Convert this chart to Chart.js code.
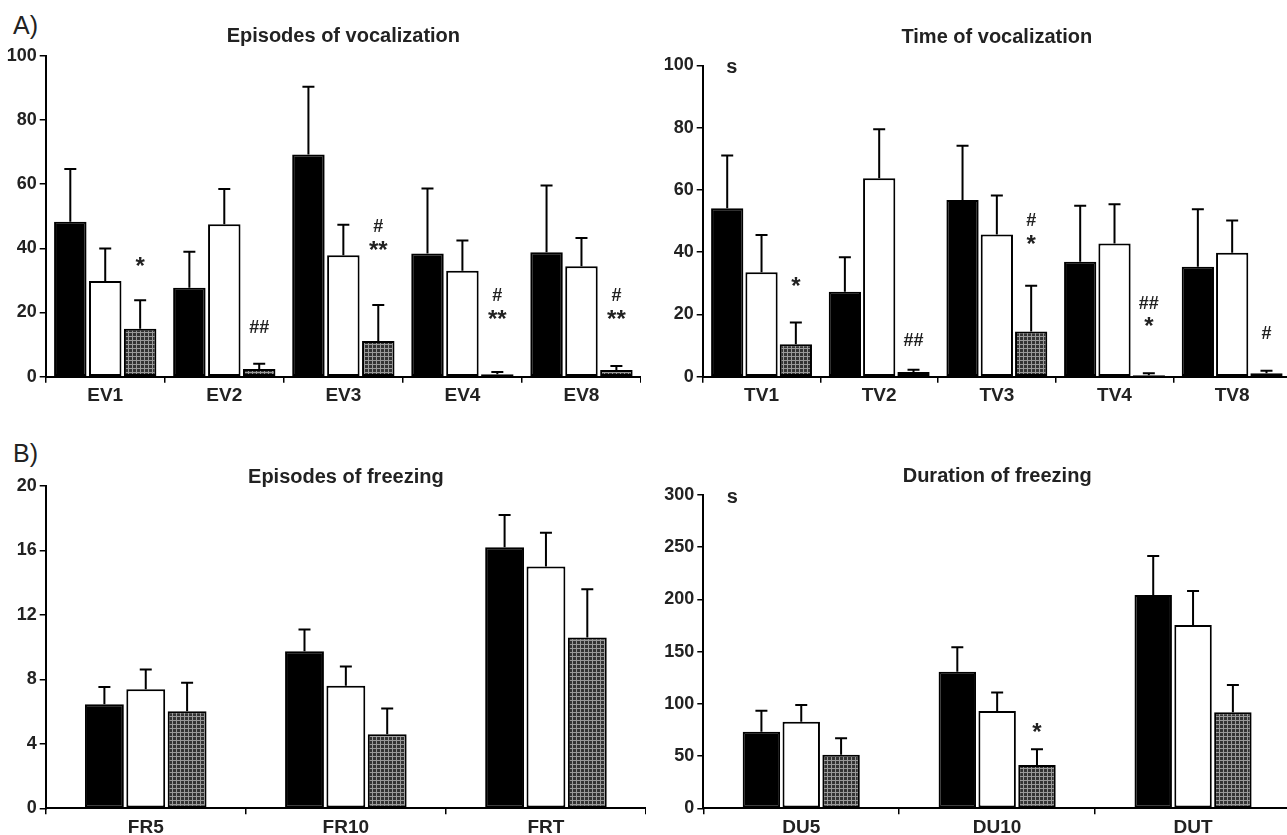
<!DOCTYPE html>
<html>
<head>
<meta charset="utf-8">
<script src="https://cdn.jsdelivr.net/npm/chart.js@4.4.1/dist/chart.umd.min.js"></script>
<style>
  body { margin: 0; width: 1287px; height: 835px; overflow: hidden; background: #fff; position: relative;
         font-family: 'Liberation Sans', Arial, sans-serif; color: #222; }
  canvas { position: absolute; }
  .panel { position: absolute; left: 13px; font-size: 25px; line-height: 1; }
</style>
</head>
<body>
<div class="panel" style="top:13px">A)</div>
<div class="panel" style="top:441px">B)</div>
<canvas id="evChart" width="641" height="410" style="left:0;top:0"></canvas>
<canvas id="tvChart" width="636" height="410" style="left:655px;top:0"></canvas>
<canvas id="frChart" width="646" height="395" style="left:0;top:440px"></canvas>
<canvas id="duChart" width="636" height="395" style="left:655px;top:440px"></canvas>
<script>
// Episodes of vocalization
const evLabels = ['EV1', 'EV2', 'EV3', 'EV4', 'EV8'];
const evBlack = [48.3, 27.7, 69.2, 38.4, 38.8];
const evBlackSem = [16.4, 11.2, 21.1, 20.2, 20.8];
const evWhite = [29.8, 47.5, 37.8, 33.0, 34.4];
const evWhiteSem = [10.1, 11.0, 9.5, 9.4, 8.8];
const evHatch = [14.9, 2.4, 11.1, 0.75, 2.1];
const evHatchSem = [8.9, 1.65, 11.2, 0.75, 1.2];
const evMarks = [['*'], ['##'], ['#', '**'], ['#', '**'], ['#', '**']];
const evMarkAt = [32.0, 13.6, 37.1, 15.6, 15.6];

// Time of vocalization
const tvLabels = ['TV1', 'TV2', 'TV3', 'TV4', 'TV8'];
const tvBlack = [54.1, 27.3, 56.8, 36.9, 35.3];
const tvBlackSem = [17.0, 11.1, 17.4, 18.0, 18.5];
const tvWhite = [33.6, 63.8, 45.7, 42.8, 39.8];
const tvWhiteSem = [11.9, 15.7, 12.5, 12.6, 10.4];
const tvHatch = [10.4, 1.5, 14.5, 0.5, 1.1];
const tvHatchSem = [7.0, 0.7, 14.7, 0.6, 0.8];
const tvMarks = [['*'], ['##'], ['#', '*'], ['##', '*'], ['#']];
const tvMarkAt = [26.5, 9.8, 40.2, 13.7, 12.1];

// Episodes of freezing
const frLabels = ['FR5', 'FR10', 'FRT'];
const frBlack = [6.45, 9.75, 16.2];
const frBlackSem = [1.07, 1.35, 2.0];
const frWhite = [7.38, 7.6, 15.0];
const frWhiteSem = [1.24, 1.2, 2.1];
const frHatch = [6.03, 4.6, 10.6];
const frHatchSem = [1.76, 1.6, 3.0];

// Duration of freezing
const duLabels = ['DU5', 'DU10', 'DUT'];
const duBlack = [73.4, 130.8, 204.3];
const duBlackSem = [20.1, 23.4, 37.3];
const duWhite = [82.9, 93.2, 175.5];
const duWhiteSem = [16.0, 17.8, 32.5];
const duHatch = [51.3, 41.5, 91.9];
const duHatchSem = [15.7, 15.0, 26.1];
const duMarks = [[], ['*'], []];
const duMarkAt = [0, 65.3, 0];

const FONT = "'Liberation Sans', Arial, sans-serif";
Chart.defaults.font.family = FONT;
Chart.defaults.color = '#222';

// grey cross-hatch fill
const tile = document.createElement('canvas');
tile.width = 4; tile.height = 4;
const tc = tile.getContext('2d');
tc.fillStyle = '#333'; tc.fillRect(0, 0, 4, 4);
tc.fillStyle = '#999'; tc.fillRect(0, 0, 4, 1); tc.fillRect(0, 0, 1, 4);
const hatch = tc.createPattern(tile, 'repeat');

// error bars (upper only), significance marks and unit label
const extras = {
  id: 'extras',
  afterDatasetsDraw(chart, args, opts) {
    const ctx = chart.ctx;
    const y = chart.scales.y;
    ctx.save();
    ctx.strokeStyle = '#000';
    ctx.lineWidth = 2;
    chart.data.datasets.forEach((ds, di) => {
      chart.getDatasetMeta(di).data.forEach((bar, i) => {
        const top = y.getPixelForValue(ds.data[i] + ds.sem[i]);
        ctx.beginPath();
        ctx.moveTo(bar.x, bar.y);
        ctx.lineTo(bar.x, top);
        ctx.moveTo(bar.x - 6, top);
        ctx.lineTo(bar.x + 6, top);
        ctx.stroke();
      });
    });

    ctx.fillStyle = '#222';
    ctx.textAlign = 'center';
    ctx.textBaseline = 'alphabetic';
    const meta = chart.getDatasetMeta(2);
    (opts.marks || []).forEach((lines, i) => {
      let base = y.getPixelForValue(opts.markAt[i]);
      for (let k = lines.length - 1; k >= 0; k--) {
        const t = lines[k];
        ctx.font = t.indexOf('*') >= 0 ? 'bold 24px ' + FONT : 'bold 18px ' + FONT;
        ctx.fillText(t, meta.data[i].x, base);
        base -= 25.5;
      }
    });

    if (opts.unit) {
      ctx.font = 'bold 20px ' + FONT;
      ctx.textBaseline = 'middle';
      ctx.fillText(opts.unit, chart.chartArea.left + 29, chart.chartArea.top + 2);
    }
    ctx.restore();
  }
};

function barSet(data, sem, fill) {
  return { data: data, sem: sem, backgroundColor: fill, borderColor: '#000', borderWidth: 2, borderSkipped: false };
}

function makeChart(id, c) {
  new Chart(document.getElementById(id), {
    type: 'bar',
    data: {
      labels: c.labels,
      datasets: [
        barSet(c.black, c.blackSem, '#000'),
        barSet(c.white, c.whiteSem, '#fff'),
        barSet(c.hatch, c.hatchSem, hatch)
      ]
    },
    options: {
      responsive: false,
      animation: false,
      layout: { padding: 0 },
      datasets: { bar: { categoryPercentage: c.catPct, barPercentage: c.barPct } },
      plugins: {
        legend: { display: false },
        tooltip: { enabled: false },
        title: {
          display: true,
          text: c.title,
          fullSize: false,
          color: '#222',
          font: { size: 20, weight: 'bold', lineHeight: c.titleLh },
          padding: { top: c.titleTop, bottom: c.titleBottom }
        },
        extras: { marks: c.marks, markAt: c.markAt, unit: c.unit }
      },
      scales: {
        x: {
          grid: { drawOnChartArea: false, color: '#000', lineWidth: 1.5, tickLength: 6 },
          border: { color: '#000', width: 2 },
          ticks: { font: { size: 19, weight: 'bold' }, color: '#222', padding: 2, maxRotation: 0 },
          afterFit: s => { s.height = c.xHeight; }
        },
        y: {
          min: 0,
          max: c.max,
          ticks: { stepSize: c.step, font: { size: 18, weight: 'bold' }, color: '#222', padding: 3 },
          grid: { drawOnChartArea: false, color: '#000', lineWidth: 1.5, tickLength: 6 },
          border: { color: '#000', width: 2 },
          afterFit: s => { s.width = c.yWidth; }
        }
      }
    },
    plugins: [extras]
  });
}

makeChart('evChart', {
  title: 'Episodes of vocalization', labels: evLabels,
  black: evBlack, blackSem: evBlackSem, white: evWhite, whiteSem: evWhiteSem, hatch: evHatch, hatchSem: evHatchSem,
  marks: evMarks, markAt: evMarkAt, max: 100, step: 20,
  catPct: 0.88, barPct: 0.93, yWidth: 45.7, xHeight: 33.3, titleLh: 1.2, titleTop: 24.7, titleBottom: 7
});

makeChart('tvChart', {
  title: 'Time of vocalization', labels: tvLabels, unit: 's',
  black: tvBlack, blackSem: tvBlackSem, white: tvWhite, whiteSem: tvWhiteSem, hatch: tvHatch, hatchSem: tvHatchSem,
  marks: tvMarks, markAt: tvMarkAt, max: 100, step: 20,
  catPct: 0.875, barPct: 0.94, yWidth: 47.7, xHeight: 33.3, titleLh: 1.2, titleTop: 25, titleBottom: 16.5
});

makeChart('frChart', {
  title: 'Episodes of freezing', labels: frLabels,
  black: frBlack, blackSem: frBlackSem, white: frWhite, whiteSem: frWhiteSem, hatch: frHatch, hatchSem: frHatchSem,
  marks: [], markAt: [], max: 20, step: 4,
  catPct: 0.62, barPct: 0.94, yWidth: 45.7, xHeight: 26.7, titleLh: 0.9, titleTop: 28, titleBottom: 0
});

makeChart('duChart', {
  title: 'Duration of freezing', labels: duLabels, unit: 's',
  black: duBlack, blackSem: duBlackSem, white: duWhite, whiteSem: duWhiteSem, hatch: duHatch, hatchSem: duHatchSem,
  marks: duMarks, markAt: duMarkAt, max: 300, step: 50,
  catPct: 0.61, barPct: 0.94, yWidth: 48.3, xHeight: 26.7, titleLh: 1.2, titleTop: 24.7, titleBottom: 6.3
});
</script>
</body>
</html>
